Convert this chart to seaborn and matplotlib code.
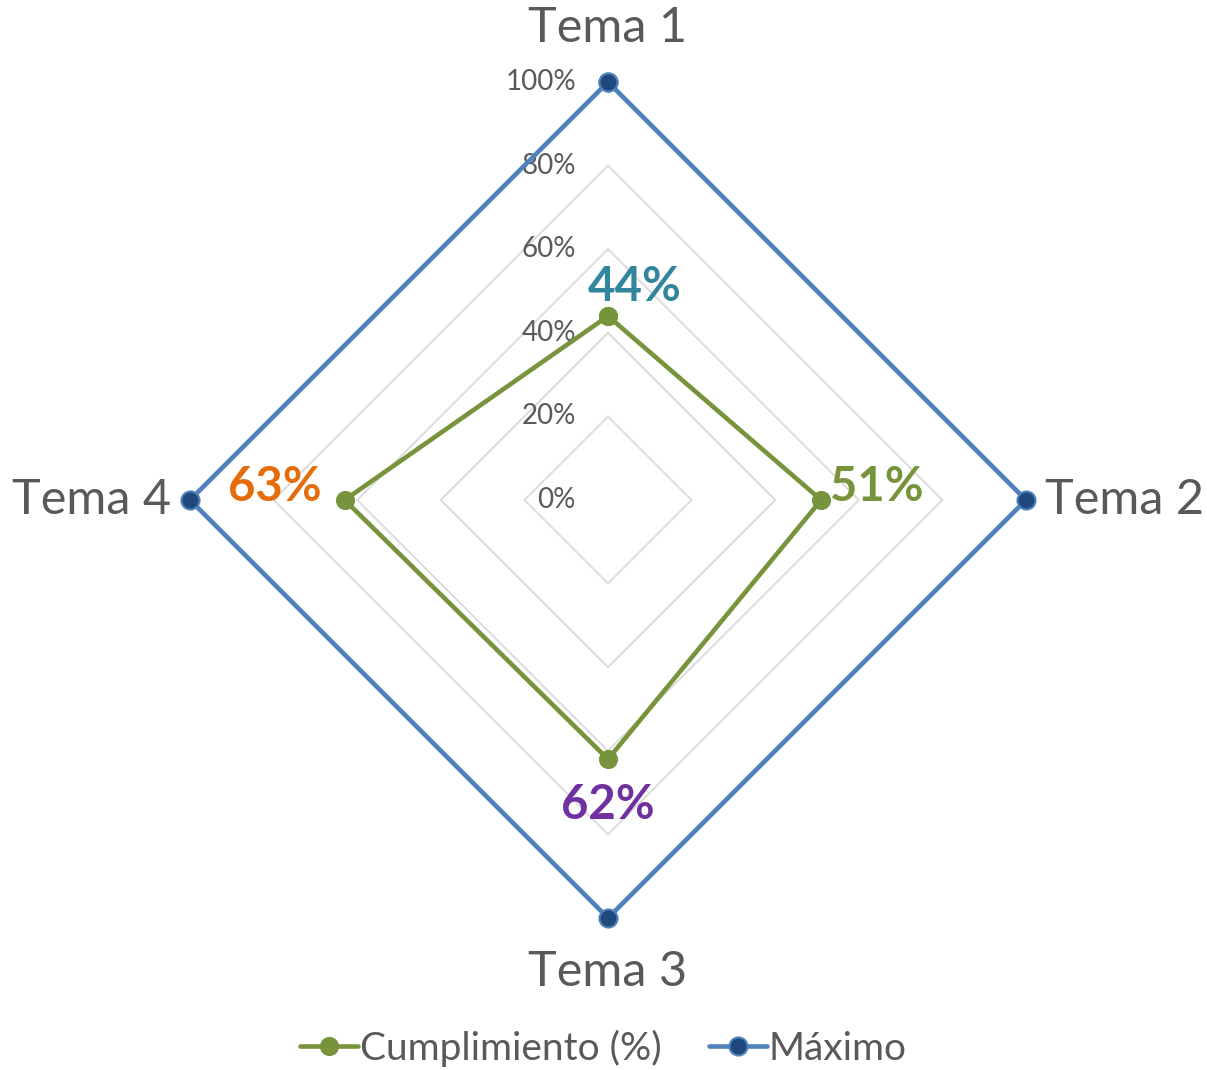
import numpy as np
import pandas as pd
import matplotlib.pyplot as plt
import seaborn as sns

# Datos del gráfico radar
temas = ['Tema 1', 'Tema 2', 'Tema 3', 'Tema 4']
cumplimiento = [0.44, 0.51, 0.62, 0.63]
maximo = [1.0, 1.0, 1.0, 1.0]
niveles = [0.0, 0.2, 0.4, 0.6, 0.8, 1.0]
colores_etiqueta = ['#31859c', '#77933c', '#7030a0', '#e46c0a']

sns.set_style('white')
plt.rcParams['font.family'] = ['Lato', 'DejaVu Sans']

# angulos: Tema 1 arriba, sentido horario
ang = np.arange(len(temas)) * np.pi / 2


def a_xy(valores):
    v = list(valores) + [valores[0]]
    a = list(ang) + [ang[0]]
    return np.array(v) * np.sin(a), np.array(v) * np.cos(a)


fig = plt.figure(figsize=(12.07, 10.70), dpi=100)
ax = fig.add_axes([0, 0, 1, 1])
ax.set_xlim(-608 / 418, (1207 - 608) / 418)
ax.set_ylim(-570 / 418, 500 / 418)
ax.set_aspect('equal')
ax.axis('off')

# rejilla en forma de rombo
for n in niveles[1:]:
    gx, gy = a_xy([n] * 4)
    ax.plot(gx, gy, color='#d9d9d9', lw=1.3, zorder=1)

for n in niveles:
    ax.text(-0.077, n, f'{n:.0%}', ha='right', va='center', fontsize=20, color='#595959', zorder=2)

# series
x1, y1 = a_xy(cumplimiento)
df1 = pd.DataFrame({'x': x1, 'y': y1})
sns.lineplot(data=df1, x='x', y='y', sort=False, estimator=None, ax=ax, color='#77933c',
             lw=3.3, marker='o', markersize=13, markerfacecolor='#77933c',
             markeredgecolor='#77933c', label='Cumplimiento (%)', zorder=4)

x2, y2 = a_xy(maximo)
df2 = pd.DataFrame({'x': x2, 'y': y2})
sns.lineplot(data=df2, x='x', y='y', sort=False, estimator=None, ax=ax, color='#4f81bd',
             lw=3.3, marker='o', markersize=13, markerfacecolor='#1f497d',
             markeredgecolor='#4f81bd', markeredgewidth=1.5, label='Máximo', zorder=3)

# etiquetas de los temas
ax.text(0, 1.13, temas[0], ha='center', va='center', fontsize=35, color='#595959')
ax.text(1.045, 0, temas[1], ha='left', va='center', fontsize=35, color='#595959')
ax.text(0, -1.13, temas[2], ha='center', va='center', fontsize=35, color='#595959')
ax.text(-1.045, 0, temas[3], ha='right', va='center', fontsize=35, color='#595959')

# etiquetas de datos
kw = dict(fontsize=34, fontweight='bold', va='center')
ax.text(0.065, cumplimiento[0] + 0.07, f'{cumplimiento[0]:.0%}', ha='center', color=colores_etiqueta[0], **kw)
ax.text(cumplimiento[1] + 0.02, 0.03, f'{cumplimiento[1]:.0%}', ha='left', color=colores_etiqueta[1], **kw)
ax.text(0, -cumplimiento[2] - 0.11, f'{cumplimiento[2]:.0%}', ha='center', color=colores_etiqueta[2], **kw)
ax.text(-cumplimiento[3] - 0.055, 0.03, f'{cumplimiento[3]:.0%}', ha='right', color=colores_etiqueta[3], **kw)

h, l = ax.get_legend_handles_labels()
if ax.legend_:
    ax.legend_.remove()
fig.legend(h, l, loc='center', bbox_to_anchor=(0.5, 1 - 1048 / 1070), ncol=2, frameon=False,
           fontsize=28, labelcolor='#595959', handlelength=1.5, handletextpad=0.05,
           columnspacing=1.2)

plt.savefig('out.png', dpi=100)
